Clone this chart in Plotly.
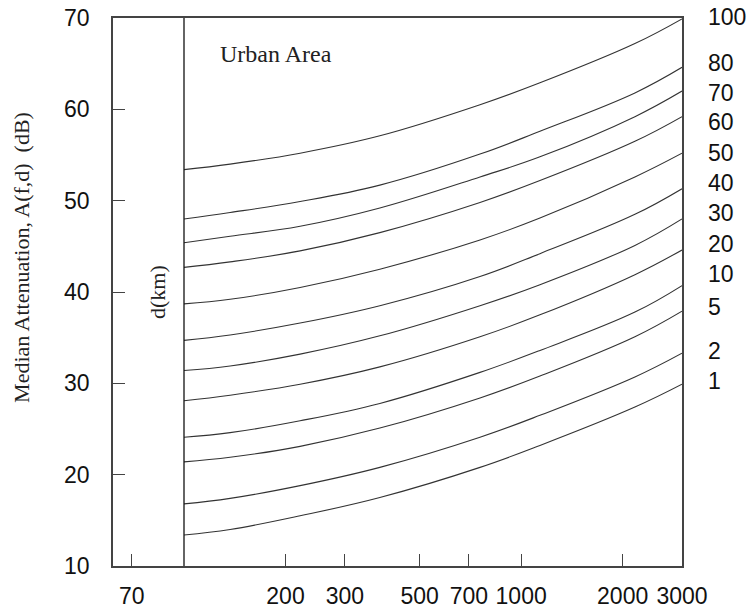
import plotly.graph_objects as go

# ---------------- data ----------------
freq_mhz = [100, 137, 221, 381, 755, 1137, 2175, 3000]

att_100km = [53.4, 54.0, 55.2, 57.1, 60.5, 62.9, 67.2, 69.9]
att_80km = [48.0, 48.7, 49.9, 51.7, 55.1, 57.6, 61.8, 64.6]
att_70km = [45.4, 46.1, 47.2, 49.2, 52.6, 54.8, 59.2, 62.0]
att_60km = [42.7, 43.3, 44.5, 46.5, 49.8, 52.2, 56.5, 59.2]
att_50km = [38.7, 39.2, 40.5, 42.5, 45.7, 48.1, 52.6, 55.2]
att_40km = [34.7, 35.3, 36.6, 38.5, 41.7, 44.2, 48.5, 51.3]
att_30km = [31.4, 31.9, 33.2, 35.2, 38.5, 40.8, 45.1, 48.0]
att_20km = [28.1, 28.7, 29.9, 31.8, 35.1, 37.5, 41.9, 44.6]
att_10km = [24.1, 24.6, 25.9, 27.8, 31.2, 33.6, 37.8, 40.7]
att_5km = [21.4, 21.9, 23.1, 25.1, 28.4, 30.8, 35.1, 37.9]
att_2km = [16.8, 17.4, 18.8, 20.8, 24.1, 26.5, 30.7, 33.3]
att_1km = [13.4, 14.0, 15.5, 17.5, 20.8, 23.2, 27.4, 29.9]

distance_labels = ["100", "80", "70", "60", "50", "40", "30", "20", "10", "5", "2", "1"]
curves = [att_100km, att_80km, att_70km, att_60km, att_50km, att_40km,
          att_30km, att_20km, att_10km, att_5km, att_2km, att_1km]

x_tick_vals = [70, 200, 300, 500, 700, 1000, 2000, 3000]
x_tick_text = ["70", "200", "300", "500", "700", "1000", "2000", "3000"]
y_tick_vals = [10, 20, 30, 40, 50, 60, 70]

divider_freq = 100
y_min, y_max = 10, 70

# vertical placement (dB) of the distance labels at the right
label_y_db = [70.1, 65.1, 61.8, 58.6, 55.2, 51.9, 48.6, 45.3, 42.0, 38.4, 33.5, 30.3]

# ---------------- figure ----------------
SANS = "Liberation Sans, Arial, sans-serif"
SERIF = "Liberation Serif, Times New Roman, serif"

fig = go.Figure()

for name, ys in zip(distance_labels, curves):
    fig.add_trace(go.Scatter(
        x=freq_mhz, y=ys, mode="lines", name=name + " km",
        line=dict(color="#333333", width=1.1, shape="spline", smoothing=1.1),
        showlegend=False, hoverinfo="skip"))

# vertical divider line
fig.add_trace(go.Scatter(
    x=[divider_freq, divider_freq], y=[y_min, y_max], mode="lines",
    line=dict(color="#111111", width=1.3), showlegend=False, hoverinfo="skip"))

annotations = []
for txt, yv in zip(distance_labels, label_y_db):
    annotations.append(dict(
        x=1.042, xref="paper", y=(yv - y_min) / (y_max - y_min), yref="paper",
        text=txt, showarrow=False, xanchor="left", yanchor="middle",
        font=dict(family=SANS, size=23, color="#111111")))

annotations.append(dict(
    x=-0.16, xref="paper", y=0.564, yref="paper",
    text="Median Attenuation, A(f,d)  (dB)", showarrow=False, textangle=-90,
    xanchor="center", yanchor="middle",
    font=dict(family=SERIF, size=22, color="#222222")))

annotations.append(dict(
    x=0.0773, xref="paper", y=0.5, yref="paper",
    text="d(km)", showarrow=False, textangle=-90,
    xanchor="center", yanchor="middle",
    font=dict(family=SERIF, size=22, color="#222222")))

annotations.append(dict(
    x=0.1845, xref="paper", y=0.934, yref="paper",
    text="Urban Area", showarrow=False,
    xanchor="left", yanchor="middle",
    font=dict(family=SERIF, size=24, color="#222222")))

fig.update_layout(
    width=752, height=612,
    margin=dict(l=113, r=70, t=18, b=46, autoexpand=False),
    paper_bgcolor="white", plot_bgcolor="white",
    annotations=annotations,
    xaxis=dict(
        type="log", range=[1.7894, 3.4771], automargin=False,
        tickvals=x_tick_vals, ticktext=x_tick_text,
        ticks="inside", ticklen=12, tickcolor="#444444", tickwidth=1.2,
        ticklabelstandoff=9,
        showline=True, linecolor="#444444", linewidth=1.5, mirror=True,
        showgrid=False, zeroline=False,
        tickfont=dict(family=SANS, size=23, color="#111111")),
    yaxis=dict(
        range=[y_min, y_max], tickvals=y_tick_vals, automargin=False,
        ticks="inside", ticklen=12, tickcolor="#444444", tickwidth=1.2,
        ticklabelstandoff=17,
        showline=True, linecolor="#444444", linewidth=1.5, mirror=True,
        showgrid=False, zeroline=False,
        tickfont=dict(family=SANS, size=23, color="#111111")),
)

fig.write_html("out.html")
